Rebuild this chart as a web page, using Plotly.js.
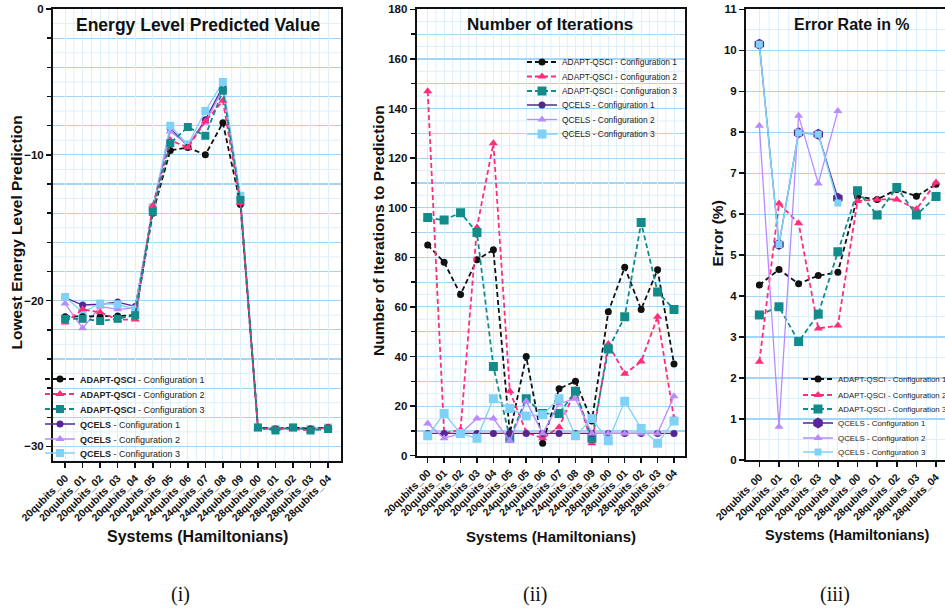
<!DOCTYPE html>
<html>
<head>
<meta charset="utf-8">
<script src="https://cdn.plot.ly/plotly-3.0.1.min.js"></script>
<style>
html,body{margin:0;padding:0;overflow:hidden;background:#fff;}
#chart{width:970px;height:612px;}
</style>
</head>
<body>
<div id="chart"></div>
<script>
// ---------------- data ----------------
const systems16 = ['20qubits_00','20qubits_01','20qubits_02','20qubits_03','20qubits_04','20qubits_05',
  '24qubits_05','24qubits_06','24qubits_07','24qubits_08','24qubits_09',
  '28qubits_00','28qubits_01','28qubits_02','28qubits_03','28qubits_04'];
const systems10 = ['20qubits_00','20qubits_01','20qubits_02','20qubits_03','20qubits_04',
  '28qubits_00','28qubits_01','28qubits_02','28qubits_03','28qubits_04'];
const systems20q = ['20qubits_00','20qubits_01','20qubits_02','20qubits_03','20qubits_04'];

const seriesNames = ['ADAPT-QSCI - Configuration 1','ADAPT-QSCI - Configuration 2','ADAPT-QSCI - Configuration 3',
  'QCELS - Configuration 1','QCELS - Configuration 2','QCELS - Configuration 3'];

// (i) Energy level predicted value
const energyAdapt1 = [-21.1,-21.1,-21.1,-21.05,-21.0,-14.0,-9.7,-9.5,-10.0,-7.8,-13.4,-28.7,-28.8,-28.7,-28.8,-28.7];
const energyAdapt2 = [-21.5,-20.6,-20.8,-21.3,-21.3,-13.5,-9.0,-9.5,-7.7,-6.3,-13.3,-28.8,-28.8,-28.8,-28.9,-28.7];
const energyAdapt3 = [-21.25,-21.25,-21.4,-21.25,-21.0,-13.9,-9.2,-8.1,-8.7,-5.6,-13.1,-28.7,-28.9,-28.7,-28.9,-28.8];
const energyQcels1 = [-19.8,-20.3,-20.25,-20.1,-20.4,-13.8,-8.2,-9.4,-7.6,-5.3,-13.0,-28.7,-28.8,-28.7,-28.8,-28.7];
const energyQcels2 = [-20.2,-21.9,-20.4,-20.6,-20.5,-13.7,-8.4,-9.3,-7.8,-5.5,-13.0,-28.7,-28.8,-28.7,-28.8,-28.7];
const energyQcels3 = [-19.75,-20.8,-20.2,-20.25,-20.6,-13.6,-8.0,-9.3,-7.0,-5.0,-12.8,-28.7,-28.8,-28.7,-28.8,-28.7];

// (ii) Number of iterations
const iterAdapt1 = [85,78,65,79,83,9,40,5,27,30,14,58,76,59,75,37];
const iterAdapt2 = [147,9,10.5,92,126,26,9.5,7,11.5,26.5,5,45,33,38,56,15];
const iterAdapt3 = [96,95,98,90,36,7,23,17,17,26,7,43,56,94,66,59];
const iterQcels1 = [9,9,9,9,9,9,9,9,9,9,9,9,9,9,9,9];
const iterQcels2 = [13,7,9,15,15,6,22,9,21,23,9,9,9,9,9,24];
const iterQcels3 = [8,17,9,7,23,19,16,16.5,23,8,15,6,22,11,5,14];

// (iii) Error rate in %
const errAdapt1 = [4.27,4.65,4.30,4.50,4.58,6.43,6.36,6.60,6.44,6.73];
const errAdapt2 = [2.40,6.26,5.78,3.21,3.28,6.32,6.36,6.36,6.12,6.77];
const errAdapt3 = [3.54,3.74,2.89,3.56,5.08,6.57,5.98,6.65,5.98,6.43];
const errQcels1 = [10.15,5.26,7.99,7.95,6.39];
const errQcels2 = [8.16,0.81,8.40,6.75,8.52];
const errQcels3 = [10.15,5.26,7.99,7.95,6.27];

// ---------------- styling ----------------
const W = 970, H = 612;
const FONT = 'Liberation Sans, Arial, sans-serif';
const C = {
  a1:'#111111', a2:'#ff2d7b', a3:'#128b8b',
  q1:'#562598', q2:'#b98aff', q3:'#7fd2f6'
};
const GRID_MAJOR = '#a3d6f6';
const GRID_MINOR = '#dcf0fc';

function px(x){return x / W;}
function py(y){return 1 - y / H;}

function legendAt(textX, yc, size){
  return {x: px(textX - 40), xanchor:'left', y: py(yc), yanchor:'middle',
    bgcolor:'rgba(0,0,0,0)', borderwidth:0, font:{family:FONT, size:size, color:'#222'},
    itemwidth:30, tracegroupgap:0};
}

const traces = [];
let legendCount = 0;
function addTrace(xs, ys, axis, name, color, symbol, msize, dashed, lw){
  legendCount++;
  const lid = legendCount === 1 ? 'legend' : 'legend' + legendCount;
  traces.push({
    type:'scatter', mode:'lines+markers', x:xs, y:ys, name:name,
    xaxis:'x'+(axis===1?'':axis), yaxis:'y'+(axis===1?'':axis),
    line:{color:color, width: lw || (dashed?1.8:1.3), dash: dashed ? '5px,3px' : 'solid'},
    marker:{color:color, symbol:symbol, size:msize, line:{width:0}},
    legend: lid, showlegend:true
  });
  return lid;
}

const layout = {width:W, height:H, margin:{l:0,r:0,t:0,b:0}, paper_bgcolor:'#fff', plot_bgcolor:'#fff',
  font:{family:FONT, color:'#111'}, showlegend:true, shapes:[], annotations:[]};

// legend positions (text start x, centre y)
const leg1 = [[80,379],[80,394],[80,409],[80,424],[80,439],[80,453]];
const leg2 = [[562,62],[562,76.5],[562,91],[562,105],[562,119.5],[562,134]];
const leg3 = [[838,379],[838,395],[838,409],[838,423],[838,438],[838,452]];
const LF1 = 9, LF2 = 8.4, LF3 = 7.9;

// Panel 1 (QCELS drawn first so ADAPT sits on top)
const p1names = ['<b>ADAPT-QSCI</b> - Configuration 1','<b>ADAPT-QSCI</b> - Configuration 2','<b>ADAPT-QSCI</b> - Configuration 3',
  '<b>QCELS</b> - Configuration 1','<b>QCELS</b> - Configuration 2','<b>QCELS</b> - Configuration 3'];
let id;
id = addTrace(systems16, energyQcels1, 1, p1names[3], C.q1, 'circle', 7, false); layout[id] = legendAt(leg1[3][0], leg1[3][1], LF1);
id = addTrace(systems16, energyQcels2, 1, p1names[4], C.q2, 'triangle-up', 8, false); layout[id] = legendAt(leg1[4][0], leg1[4][1], LF1);
id = addTrace(systems16, energyQcels3, 1, p1names[5], C.q3, 'square', 8, false); layout[id] = legendAt(leg1[5][0], leg1[5][1], LF1);
id = addTrace(systems16, energyAdapt1, 1, p1names[0], C.a1, 'circle', 7, true); layout[id] = legendAt(leg1[0][0], leg1[0][1], LF1);
id = addTrace(systems16, energyAdapt2, 1, p1names[1], C.a2, 'triangle-up', 8, true); layout[id] = legendAt(leg1[1][0], leg1[1][1], LF1);
id = addTrace(systems16, energyAdapt3, 1, p1names[2], C.a3, 'square', 8, true); layout[id] = legendAt(leg1[2][0], leg1[2][1], LF1);

// Panel 2
id = addTrace(systems16, iterAdapt1, 2, seriesNames[0], C.a1, 'circle', 7, true); layout[id] = legendAt(leg2[0][0], leg2[0][1], LF2);
id = addTrace(systems16, iterAdapt2, 2, seriesNames[1], C.a2, 'triangle-up', 8, true); layout[id] = legendAt(leg2[1][0], leg2[1][1], LF2);
id = addTrace(systems16, iterAdapt3, 2, seriesNames[2], C.a3, 'square', 9, true); layout[id] = legendAt(leg2[2][0], leg2[2][1], LF2);
id = addTrace(systems16, iterQcels1, 2, seriesNames[3], C.q1, 'circle', 7, false); layout[id] = legendAt(leg2[3][0], leg2[3][1], LF2);
id = addTrace(systems16, iterQcels2, 2, seriesNames[4], C.q2, 'triangle-up', 8, false); layout[id] = legendAt(leg2[4][0], leg2[4][1], LF2);
id = addTrace(systems16, iterQcels3, 2, seriesNames[5], C.q3, 'square', 9, false); layout[id] = legendAt(leg2[5][0], leg2[5][1], LF2);

// Panel 3
id = addTrace(systems10, errAdapt1, 3, seriesNames[0], C.a1, 'circle', 7, true); layout[id] = legendAt(leg3[0][0], leg3[0][1], LF3);
id = addTrace(systems10, errAdapt2, 3, seriesNames[1], C.a2, 'triangle-up', 8, true); layout[id] = legendAt(leg3[1][0], leg3[1][1], LF3);
id = addTrace(systems10, errAdapt3, 3, seriesNames[2], C.a3, 'square', 9, true); layout[id] = legendAt(leg3[2][0], leg3[2][1], LF3);
id = addTrace(systems20q, errQcels1, 3, seriesNames[3], C.q1, 'hexagon', 11, false); layout[id] = legendAt(leg3[3][0], leg3[3][1], LF3);
id = addTrace(systems20q, errQcels2, 3, seriesNames[4], C.q2, 'triangle-up', 8, false); layout[id] = legendAt(leg3[4][0], leg3[4][1], LF3);
id = addTrace(systems20q, errQcels3, 3, seriesNames[5], C.q3, 'square', 7, false, 1.6); layout[id] = legendAt(leg3[5][0], leg3[5][1], LF3);

// ---------------- axes ----------------
function xAxis(domain, cats, range, tfsize){
  return {type:'category', categoryorder:'array', categoryarray:cats, domain:domain, range:range,
    showline:true, mirror:true, linecolor:'#111', linewidth:2,
    ticks:'outside', ticklen:5, tickwidth:1.5, tickcolor:'#111',
    tickangle:-45, tickfont:{family:FONT, size:tfsize, weight:700, color:'#111'},
    showgrid:true, gridcolor:GRID_MINOR, gridwidth:1, zeroline:false, fixedrange:true};
}
function yAxis(domain, range, tickvals, minorDtick, tfsize){
  return {domain:domain, range:range, tickmode:'array', tickvals:tickvals,
    showline:true, mirror:true, linecolor:'#111', linewidth:2,
    ticks:'outside', ticklen:5, tickwidth:1.5, tickcolor:'#111',
    tickfont:{family:FONT, size:tfsize, weight:700, color:'#111'},
    showgrid:true, gridcolor:GRID_MAJOR, gridwidth:1.2, zeroline:false, fixedrange:true,
    minor:{tickmode:'linear', tick0:0, dtick:minorDtick, ticks:'outside', ticklen:4, tickcolor:'#111', tickwidth:1.5,
      showgrid:true, gridcolor:GRID_MAJOR, gridwidth:1.2}};
}

layout.xaxis = Object.assign(xAxis([px(53), px(340.7)], systems16, [-0.69, 15.72], 10.5), {anchor:'y'});
layout.yaxis = Object.assign(yAxis([py(461), py(9)], [-31, 0], [0,-10,-20,-30], 2, 11.5), {anchor:'x'});
layout.xaxis2 = Object.assign(xAxis([px(416.7), px(685)], systems16, [-0.67, 15.67], 10.5), {anchor:'y2'});
layout.yaxis2 = Object.assign(yAxis([py(455.7), py(9.3)], [0, 180], [0,20,40,60,80,100,120,140,160,180], 10, 11.5), {anchor:'x2'});
layout.xaxis3 = Object.assign(xAxis([px(746), px(949)], systems10, [-0.68, 9.66], 10.5), {anchor:'y3'});
layout.yaxis3 = Object.assign(yAxis([py(460), py(9.3)], [0, 11], [0,1,2,3,4,5,6,7,8,9,10,11], 0.5, 11.5), {anchor:'x3'});
layout.yaxis3.minor.showgrid = true; layout.yaxis3.minor.gridcolor = GRID_MINOR; layout.yaxis3.minor.gridwidth = 1; layout.yaxis3.minor.ticks = '';

// paler graph-paper lines between the blue grid lines
function halfGridX(xref, yref, n){
  for(let i=0;i<n-1;i++){
    layout.shapes.push({type:'line', xref:xref, yref:yref+' domain', x0:i+0.5, x1:i+0.5, y0:0, y1:1,
      line:{color:GRID_MINOR, width:1}, layer:'below'});
  }
}
function halfGridY(xref, yref, from, to, step){
  for(let v=from; v<=to+1e-9; v+=step){
    layout.shapes.push({type:'line', xref:xref+' domain', yref:yref, x0:0, x1:1, y0:v, y1:v,
      line:{color:GRID_MINOR, width:1}, layer:'below'});
  }
}
halfGridX('x','y',16); halfGridX('x2','y2',16); halfGridX('x3','y3',10);
halfGridY('x','y',-31,-1,2);
halfGridY('x2','y2',5,175,10);

// ---------------- text ----------------
function ann(text, x, y, size, opts){
  layout.annotations.push(Object.assign({text:text, xref:'paper', yref:'paper', x:px(x), y:py(y),
    xanchor:'center', yanchor:'middle', showarrow:false,
    font:{family:FONT, size:size, color:'#111', weight:700}}, opts||{}));
}
// panel titles
ann('Energy Level Predicted Value', 198, 25, 17.5);
ann('Number of Iterations', 550, 25, 17);
ann('Error Rate in %', 852, 25, 16);
// y titles
ann('Lowest Energy Level Prediction', 16, 232.5, 15.5, {textangle:-90});
ann('Number of Iterations to Prediction', 378.5, 230.5, 15.5, {textangle:-90});
ann('Error (%)', 717, 233.5, 15.5, {textangle:-90});
// x titles
ann('Systems (Hamiltonians)', 197.5, 536.5, 16);
ann('Systems (Hamiltonians)', 551, 536.5, 15);
ann('Systems (Hamiltonians)', 847.5, 535, 14.5);
// sub captions
const serif = {family:'Liberation Serif, Times New Roman, serif', size:20, color:'#111', weight:400};
ann('(i)', 180, 594, 20, {font:serif});
ann('(ii)', 535, 594, 20, {font:serif});
ann('(iii)', 835, 594, 20, {font:serif});

Plotly.newPlot('chart', traces, layout, {staticPlot:true, displayModeBar:false});
</script>
</body>
</html>
